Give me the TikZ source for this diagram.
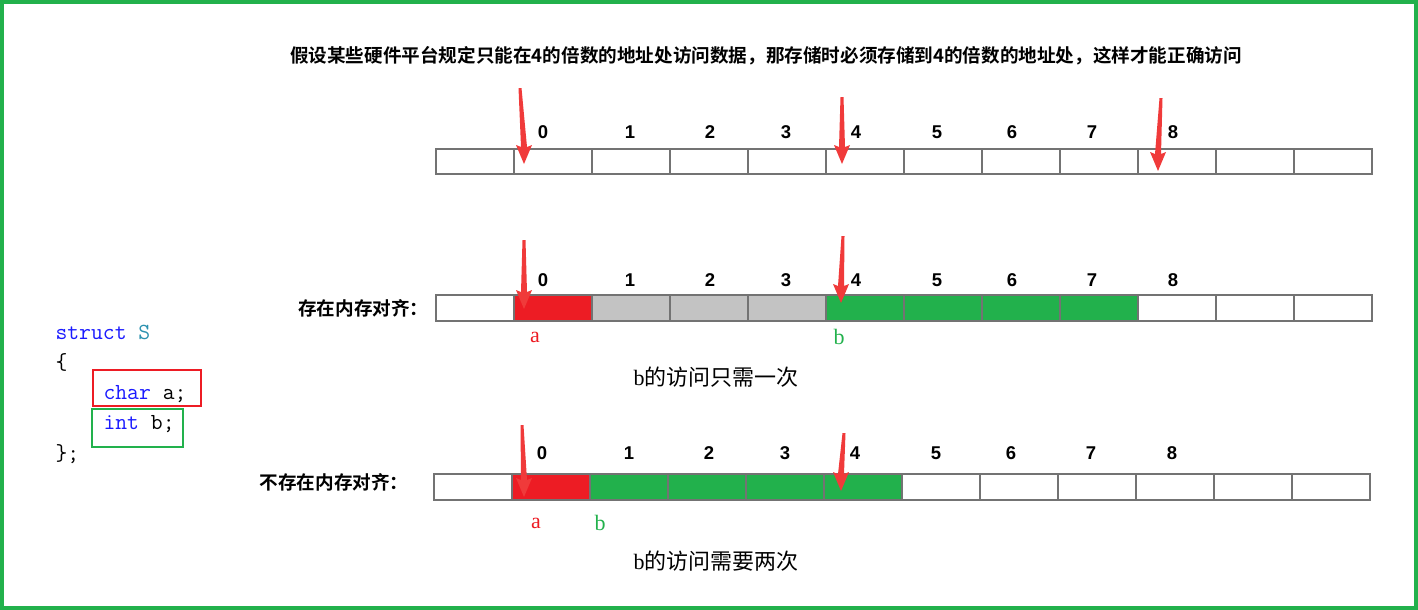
\documentclass[tikz,border=0pt]{standalone}
\usepackage{fontspec}
\setmainfont{Liberation Sans}
\newfontfamily\serifl{Liberation Serif}
\newfontfamily\cjk{Noto Sans CJK SC}
\newfontfamily\cjkb{Noto Sans CJK SC}[BoldFont={Noto Sans CJK SC Bold}]
\definecolor{myred}{HTML}{ED1C24}
\definecolor{mygreen}{HTML}{22B14C}
\definecolor{arrred}{HTML}{F03A3A}
\definecolor{cellgray}{HTML}{C3C3C3}
\definecolor{kw}{HTML}{1A1AFF}
\definecolor{tn}{HTML}{2B91AF}
\tikzset{
 cell/.style={draw=gray!90!black, line width=1.5pt},
 num/.style={font=\bfseries\fontsize{18.5}{18.5}\selectfont},
 code/.style={anchor=west, font=\ttfamily\fontsize{23}{23}\selectfont},
 lab/.style={font=\cjkb\bfseries\fontsize{18.6}{18.6}\selectfont},
 captext/.style={font=\cjk\fontsize{22}{22}\selectfont},
 letter/.style={font=\serifl\fontsize{22}{22}\selectfont},
}
\newcommand{\redarrow}[4]{% x1 y1 x2 y2 (tip)
  \fill[arrred] (#1-1.5,#2) -- (#1+1.5,#2) -- (#3+3,#4-17) -- (#3+8,#4-19) -- (#3,#4) -- (#3-8,#4-19) -- (#3-3,#4-17) -- cycle;}
\begin{document}
\begin{tikzpicture}[x=1pt,y=-1pt]
\useasboundingbox (0,0) rectangle (1418,610);
\draw[mygreen, line width=4pt] (2,2) rectangle (1416,608);
\node[lab] (title) at (766,56) {假设某些硬件平台规定只能在4的倍数的地址处访问数据，那存储时必须存储到4的倍数的地址处，这样才能正确访问};
% row 1
\foreach \i in {0,...,11} \draw[cell] (436+78*\i,149) rectangle (514+78*\i,174);
% row 2
\fill[myred] (514,295) rectangle (592,321);
\fill[cellgray] (592,295) rectangle (826,321);
\fill[mygreen] (826,295) rectangle (1138,321);
\foreach \i in {0,...,11} \draw[cell] (436+78*\i,295) rectangle (514+78*\i,321);
% row 3
\fill[myred] (512,474) rectangle (590,500);
\fill[mygreen] (590,474) rectangle (902,500);
\foreach \i in {0,...,11} \draw[cell] (434+78*\i,474) rectangle (512+78*\i,500);
% numbers
\foreach \x/\n in {543/0,630/1,710/2,786/3,856/4,937/5,1012/6,1092/7,1173/8}{
  \node[num] (na\n) at (\x,132) {\n};
  \node[num] (nb\n) at (\x,280) {\n};
  \node[num] (nc\n) at (\x-1,453) {\n};}
% arrows
\redarrow{520}{88}{524}{164}
\redarrow{842}{97}{842}{164}
\redarrow{1161}{98}{1158}{171}
\redarrow{524}{240}{524}{309}
\redarrow{843}{236}{841}{303}
\redarrow{522}{425}{524}{497}
\redarrow{844}{433}{841}{491}
% labels
\node[lab, anchor=east] (l2) at (432,308) {存在内存对齐：};
\node[lab, anchor=east] (l3) at (412,482) {不存在内存对齐：};
\node[letter, text=myred] (a2) at (535,337) {a};
\node[letter, text=mygreen] (b2) at (839,337) {b};
\node[letter, text=myred] (a3) at (536,523) {a};
\node[letter, text=mygreen] (b3) at (600,523) {b};
\node[captext] (c2) at (716,377) {{\serifl b}的访问只需一次};
\node[captext] (c3) at (716,561) {{\serifl b}的访问需要两次};
% code
\node[code] (s1) at (52,332) {\textcolor{kw}{struct} \textcolor{tn}{S}};
\node[code] (s2) at (52,362) {\{};
\node[code] (s3) at (100,394) {\textcolor{kw}{char} a;};
\node[code] (s4) at (100,424) {\textcolor{kw}{int} b;};
\node[code] (s5) at (52,454) {\};};
\draw[myred, line width=1.5pt] (93,370) rectangle (201,406);
\draw[mygreen, line width=1.5pt] (92,409) rectangle (183,447);
\end{tikzpicture}
\end{document}
